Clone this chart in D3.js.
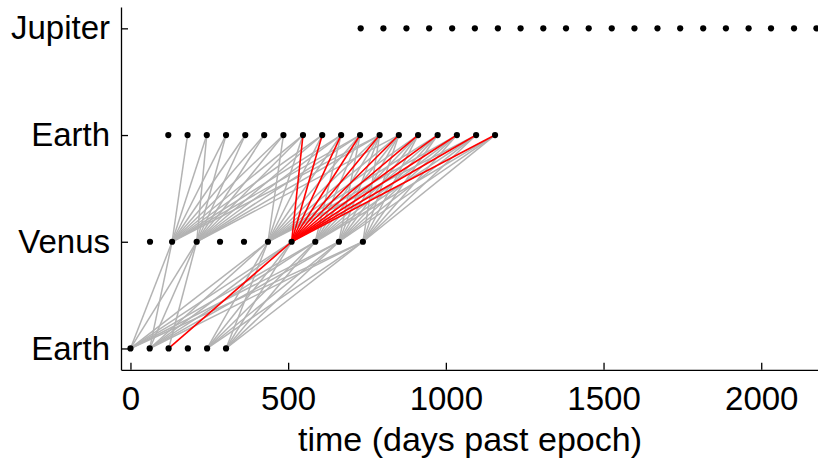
<!DOCTYPE html>
<html>
<head>
<meta charset="utf-8">
<script src="https://cdn.jsdelivr.net/npm/d3@7"></script>
<style>
  body { margin: 0; background: #fff; }
  svg { display: block; font-family: "Liberation Sans", Arial, sans-serif; }
  .axis path, .axis line { stroke: #000; stroke-width: 1.3; }
  .axis text { font-size: 33px; fill: #000; }
</style>
</head>
<body>
<svg id="chart"></svg>
<script>
// levels on the y axis, bottom to top
const levelNames = ["Earth", "Venus", "Earth", "Jupiter"];

// candidate dates at each level (days past epoch)
const earthLaunch = [0, 61, 121, 182, 243, 303];
const venusFlyby = [62, 132, 210, 284, 360, 436, 511, 586, 661, 737];
const earthFlyby = [120, 181, 242, 303, 364, 424, 485, 547, 608, 668, 728, 790, 851, 912, 974, 1035, 1096, 1156];
const jupiterArrival = [730, 802, 875, 947, 1020, 1092, 1165, 1237, 1309, 1381, 1453, 1526, 1598, 1671, 1743, 1816, 1888, 1960, 2031, 2104, 2175];

const xTicks = [0, 500, 1000, 1500, 2000];

// links [launch index, venus index]
const legOne = [
  [0, 1], [1, 1], [0, 2], [1, 2], [2, 2],
  [0, 5], [1, 5], [4, 5], [5, 5],
  [0, 6], [1, 6], [4, 6], [5, 6],
  [0, 7], [1, 7], [4, 7], [5, 7],
  [0, 8], [1, 8], [4, 8], [5, 8],
  [0, 9], [1, 9], [4, 9], [5, 9]
];

// links [venus index, earth flyby index]
const legTwo = [
  [1, 1], [1, 2], [1, 3], [1, 4], [1, 5], [1, 6], [1, 7], [1, 8], [1, 9], [1, 10], [1, 11],
  [2, 2], [2, 3], [2, 4], [2, 5], [2, 6], [2, 7], [2, 8], [2, 9], [2, 10], [2, 11], [2, 12],
  [5, 6], [5, 7], [5, 8], [5, 9], [5, 10], [5, 11], [5, 12], [5, 13], [5, 14], [5, 15], [5, 16],
  [7, 9], [7, 10], [7, 11], [7, 12], [7, 13], [7, 14], [7, 15], [7, 16], [7, 17],
  [8, 10], [8, 11], [8, 12], [8, 13], [8, 14], [8, 15], [8, 16], [8, 17],
  [9, 11], [9, 12], [9, 13], [9, 14], [9, 15], [9, 16], [9, 17]
];

// highlighted links
const redOne = [[2, 6]];
const redTwo = [
  [6, 7], [6, 8], [6, 9], [6, 10], [6, 11], [6, 12], [6, 13], [6, 14], [6, 15], [6, 16], [6, 17]
];

const width = 818;
const height = 464;

const svg = d3.select("#chart")
  .attr("width", width)
  .attr("height", height);

const xScale = d3.scaleLinear()
  .domain([-30, 2180])
  .range([121, 818]);

const yScale = d3.scaleLinear()
  .domain([-0.2, 3.2])
  .range([369.8, 7]);

const layers = [earthLaunch, venusFlyby, earthFlyby, jupiterArrival];

function segments(links, lower) {
  return links.map(([a, b]) => ({
    x1: xScale(layers[lower][a]), y1: yScale(lower),
    x2: xScale(layers[lower + 1][b]), y2: yScale(lower + 1)
  }));
}

const grayLinks = segments(legOne, 0).concat(segments(legTwo, 1));
const redLinks = segments(redOne, 0).concat(segments(redTwo, 1));

svg.append("g")
  .selectAll("line")
  .data(grayLinks)
  .enter()
  .append("line")
  .attr("x1", d => d.x1).attr("y1", d => d.y1)
  .attr("x2", d => d.x2).attr("y2", d => d.y2)
  .attr("stroke", "#b3b3b3")
  .attr("stroke-width", 1.5);

svg.append("g")
  .selectAll("line")
  .data(redLinks)
  .enter()
  .append("line")
  .attr("x1", d => d.x1).attr("y1", d => d.y1)
  .attr("x2", d => d.x2).attr("y2", d => d.y2)
  .attr("stroke", "#ff0000")
  .attr("stroke-width", 1.6);

const dots = layers.flatMap((dates, level) => dates.map(t => ({ t, level })));

svg.append("g")
  .selectAll("circle")
  .data(dots)
  .enter()
  .append("circle")
  .attr("cx", d => xScale(d.t))
  .attr("cy", d => yScale(d.level))
  .attr("r", 3.1)
  .attr("fill", "#000");

svg.append("g")
  .attr("class", "axis")
  .attr("transform", "translate(0," + yScale(-0.2) + ")")
  .call(d3.axisBottom(xScale).tickValues(xTicks).tickFormat(d3.format("d"))
    .tickSizeInner(-7).tickSizeOuter(0).tickPadding(17));

svg.append("g")
  .attr("class", "axis")
  .attr("transform", "translate(" + xScale(-30) + ",0)")
  .call(d3.axisLeft(yScale).tickValues([0, 1, 2, 3]).tickFormat(i => levelNames[i])
    .tickSizeInner(-7).tickSizeOuter(0).tickPadding(11));

svg.append("text")
  .attr("x", 470)
  .attr("y", 451)
  .attr("text-anchor", "middle")
  .style("font-size", "34px")
  .text("time (days past epoch)");
</script>
</body>
</html>
